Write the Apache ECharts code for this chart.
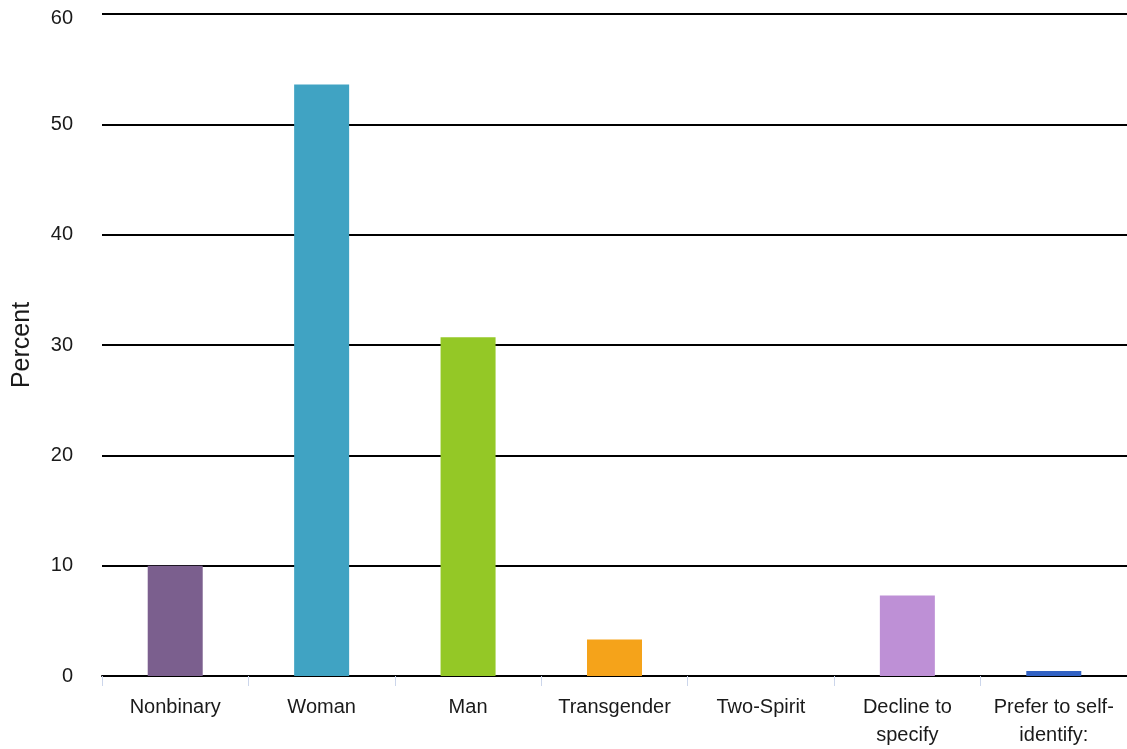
<!DOCTYPE html>
<html>
<head>
<meta charset="utf-8">
<script src="https://cdn.jsdelivr.net/npm/echarts@6/dist/echarts.min.js"></script>
<style>
html,body{margin:0;padding:0;background:#fff;}
#chart{width:1127px;height:749px;}
</style>
</head>
<body>
<div id="chart"></div>
<script>
const categories = ["Nonbinary", "Woman", "Man", "Transgender", "Two-Spirit", "Decline to\nspecify", "Prefer to self-\nidentify:"];
const values = [10.0, 53.6, 30.7, 3.3, 0, 7.3, 0.45];
const barColors = ["#7b5f8e", "#40a3c3", "#94c826", "#f5a31a", "#6d9f3a", "#be90d6", "#3262c4"];
const yTicks = [0, 10, 20, 30, 40, 50, 60];

const chart = echarts.init(document.getElementById('chart'), null, {renderer: 'canvas'});
const yMax = yTicks[yTicks.length - 1];
chart.setOption({
  animation: false,
  grid: {left: 102, right: 0, top: 14, bottom: 71, containLabel: false},
  xAxis: {
    type: 'category',
    data: categories,
    axisLine: {show: true, lineStyle: {color: '#000', width: 2}},
    axisTick: {show: true, alignWithLabel: false, length: 10, lineStyle: {color: '#ccd6eb', width: 1}},
    axisLabel: {color: '#1a1a1a', fontSize: 20, fontFamily: 'Liberation Sans, Arial, sans-serif', margin: 17, lineHeight: 28, interval: 0}
  },
  yAxis: {
    type: 'value',
    min: yTicks[0], max: yMax, interval: 10,
    name: 'Percent',
    nameLocation: 'middle',
    nameRotate: 90,
    nameGap: 67,
    nameTextStyle: {color: '#1a1a1a', fontSize: 25, fontFamily: 'Liberation Sans, Arial, sans-serif'},
    axisLine: {show: false},
    axisTick: {show: false},
    splitLine: {show: true, lineStyle: {color: '#000', width: 2}},
    axisLabel: {
      color: '#1a1a1a', fontSize: 20, fontFamily: 'Liberation Sans, Arial, sans-serif', margin: 29,
      formatter: v => v === yMax ? '{top|' + v + '}' : String(v),
      rich: {top: {fontSize: 20, color: '#1a1a1a', fontFamily: 'Liberation Sans, Arial, sans-serif', padding: [9, 0, 0, 0]}}
    }
  },
  series: [{
    type: 'bar',
    data: values.map((v, i) => ({value: v, itemStyle: {color: barColors[i]}})),
    barWidth: 55,
    z: 3
  }]
});
</script>
</body>
</html>
